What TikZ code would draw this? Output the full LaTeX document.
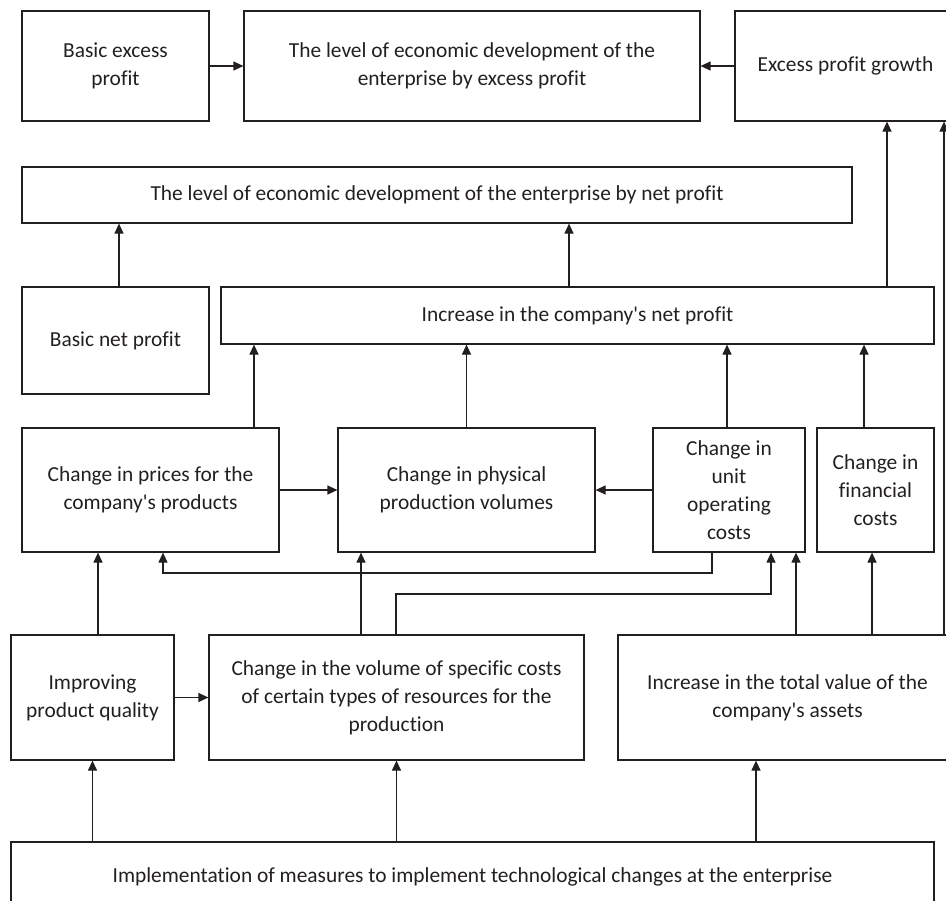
\documentclass[tikz,border=0pt]{standalone}
\usepackage{fontspec}
\setmainfont{Carlito}[Ligatures={TeXOff,CommonOff}]
\usepackage{xcolor}
\usetikzlibrary{arrows.meta,positioning}
\definecolor{ink}{RGB}{35,31,32}

\begin{document}
\begin{tikzpicture}[x=0.5pt,y=-0.5pt,>={Triangle[length=5pt,width=4.5pt]},line width=0.6pt,ink]
\tikzset{
  box/.style={draw,inner sep=1pt,align=center,font=\fontsize{10.7}{14}\selectfont},
  arr/.style={->}
}
\useasboundingbox (0,0) rectangle (946,900);
\clip (0,0) rectangle (946,900);

\node[box,minimum width=93.5pt,minimum height=55pt] (bep) at (115.5,66) {Basic excess\\profit};
\node[box,minimum width=228pt,minimum height=55pt] (lee) at (472,66) {The level of economic development of the\\enterprise by excess profit};
\node[box,minimum width=110.5pt,minimum height=55pt] (epg) at (845.5,66) {Excess profit growth};

\node[box,minimum width=415pt,minimum height=28pt] (len) at (437,195) {The level of economic development of the enterprise by net profit};
\node[box,minimum width=93.5pt,minimum height=53.5pt] (bnp) at (115.5,340.5) {Basic net profit};
\node[box,minimum width=356.5pt,minimum height=28.5pt] (inp) at (577.5,315.5) {Increase in the company's net profit};

\node[box,minimum width=128.5pt,minimum height=62pt] (cip) at (150.5,490) {Change in prices for the\\company's products};
\node[box,minimum width=128.5pt,minimum height=62pt] (cpv) at (466.5,490) {Change in physical\\production volumes};
\node[box,minimum width=76pt,minimum height=62pt] (cuo) at (729,490) {Change in\\unit\\operating\\costs};
\node[box,minimum width=58.5pt,minimum height=62pt] (cfc) at (875.5,490) {Change in\\financial\\costs};

\node[box,minimum width=81.5pt,minimum height=62.5pt] (ipq) at (92.5,697.5) {Improving\\product quality};
\node[box,minimum width=187.5pt,minimum height=62.5pt] (cvs) at (396.5,697.5) {Change in the volume of specific costs\\of certain types of resources for the\\production};
\node[box,minimum width=169.5pt,minimum height=62.5pt] (iva) at (787.5,697.5) {Increase in the total value of the\\company's assets};

\node[box,minimum width=461.5pt,minimum height=35pt] (imp) at (472.5,877) {Implementation of measures to implement technological changes at the enterprise};

\draw[arr] (bep) -- (lee);
\draw[arr] (epg) -- (lee);
\draw[arr] (bnp.north -| 119,0) -- (len.south -| 119,0);
\draw[arr] (inp.north -| 569,0) -- (len.south -| 569,0);
\draw[arr] (inp.north -| 887,0) -- (epg.south -| 887,0);
\draw[arr] (iva.north -| 944,0) -- (epg.south -| 944,0);

\draw[arr] (cip.north -| 254,0) -- (inp.south -| 254,0);
\draw[arr] (cpv.north) -- (inp.south -| cpv.north);
\draw[arr] (cuo.north -| 727,0) -- (inp.south -| 727,0);
\draw[arr] (cfc.north -| 864,0) -- (inp.south -| 864,0);
\draw[arr] (cip) -- (cpv);
\draw[arr] (cuo) -- (cpv);

\draw[arr] (cuo.south -| 712,0) -- (712,573) -| (cip.south -| 163,0);
\draw[arr] (cvs.north -| 396,0) -- (396,594) -| (cuo.south -| 771,0);
\draw[arr] (cvs.north -| 361,0) -- (cpv.south -| 361,0);
\draw[arr] (ipq.north -| 98,0) -- (cip.south -| 98,0);
\draw[arr] (iva.north -| 796,0) -- (cuo.south -| 796,0);
\draw[arr] (iva.north -| 872,0) -- (cfc.south -| 872,0);
\draw[arr] (ipq) -- (cvs);

\draw[arr] (imp.north -| ipq.south) -- (ipq.south);
\draw[arr] (imp.north -| cvs.south) -- (cvs.south);
\draw[arr] (imp.north -| 756,0) -- (iva.south -| 756,0);
\end{tikzpicture}
\end{document}
